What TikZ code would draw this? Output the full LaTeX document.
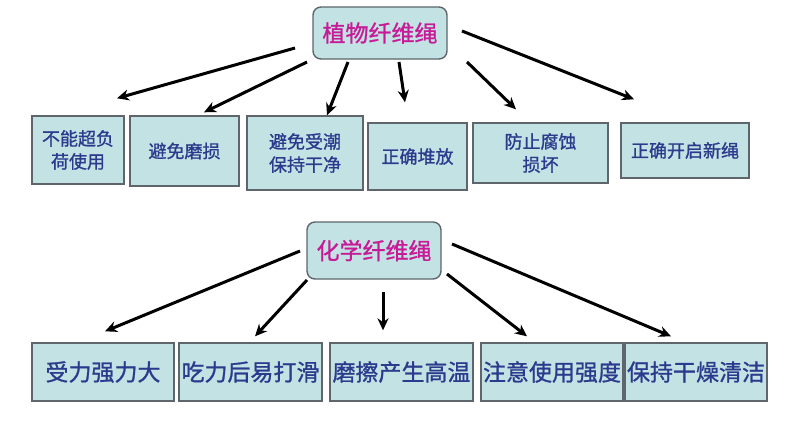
\documentclass[tikz,border=0pt]{standalone}
\usepackage{fontspec}
\newfontfamily\cjk[FakeBold=1]{Noto Sans CJK SC}
\usetikzlibrary{arrows.meta,calc}
\definecolor{boxfill}{HTML}{C2E2E3}
\definecolor{boxline}{HTML}{5E666C}
\definecolor{txtblue}{HTML}{2B3A8C}
\definecolor{txtmag}{HTML}{C81A96}
\begin{document}
\begin{tikzpicture}[x=1pt,y=-1pt,
  rootbox/.style={draw=boxline,line width=1.4pt,fill=boxfill,rounded corners=8pt,
    inner sep=0pt,font=\cjk\fontsize{23}{26}\selectfont,text=txtmag},
  topbox/.style={draw=boxline,line width=1.4pt,fill=boxfill,inner sep=0pt,
    font=\cjk\fontsize{18}{23}\selectfont,text=txtblue,align=center},
  botbox/.style={draw=boxline,line width=1.4pt,fill=boxfill,inner sep=0pt,
    font=\cjk\fontsize{23}{26}\selectfont,text=txtblue,align=center,
    minimum height=58pt},
  arr/.style={line width=3pt,-{Stealth[length=12pt,width=11pt]}}]
\useasboundingbox[fill=white] (0,0) rectangle (794,420);
% top tree
\node[rootbox,minimum width=134pt,minimum height=52pt] (r1) at (380,33) {植物纤维绳};
\node[topbox,minimum width=92pt,minimum height=68pt] (b1) at (78,150) {不能超负\\荷使用};
\node[topbox,minimum width=109pt,minimum height=70pt] (b2) at (184.5,151) {避免磨损};
\node[topbox,minimum width=116pt,minimum height=74pt] (b3) at (305,153) {避免受潮\\保持干净};
\node[topbox,minimum width=99pt,minimum height=67pt] (b4) at (417.5,156.5) {正确堆放};
\node[topbox,minimum width=135pt,minimum height=60pt] (b5) at (540.5,153) {防止腐蚀\\损坏};
\node[topbox,minimum width=128pt,minimum height=55pt] (b6) at (685,150.5) {正确开启新绳};
\draw[arr] ($(r1)+(-85,15)$) -- ($(b1.north)+(39,-17)$);
\draw[arr] ($(r1)+(-73,29)$) -- ($(b2.north)+(19.5,-3)$);
\draw[arr] ($(r1)+(-32,29)$) -- ($(b3.north)+(22,0)$);
\draw[arr] ($(r1)+(19,29)$) -- ($(b4.north)+(-12.5,-20)$);
\draw[arr] ($(r1)+(87,29)$) -- ($(b5.north)+(-24.5,-13)$);
\draw[arr] ($(r1)+(82,-2)$) -- ($(b6.north)+(-51,-23)$);
% bottom tree
\node[rootbox,minimum width=134pt,minimum height=57pt] (r2) at (374,250.5) {化学纤维绳};
\node[botbox,minimum width=142pt] (c1) at (103,372) {受力强力大};
\node[botbox,minimum width=143pt] (c2) at (250.5,372) {吃力后易打滑};
\node[botbox,minimum width=143pt] (c3) at (401.5,372) {磨擦产生高温};
\node[botbox,minimum width=142pt] (c4) at (552,372) {注意使用强度};
\node[botbox,minimum width=142pt] (c5) at (696,372) {保持干燥清洁};
\draw[arr] ($(r2)+(-74,0.5)$) -- ($(c1.north)+(2,-11)$);
\draw[arr] ($(r2)+(-67,29.5)$) -- ($(c2.north)+(4.5,-6)$);
\draw[arr] ($(r2)+(9,41.5)$) -- ($(c3.north)+(-18.5,-12)$);
\draw[arr] ($(r2)+(73,23.5)$) -- ($(c4.north)+(-25,-6)$);
\draw[arr] ($(r2)+(78,-6.5)$) -- ($(c5.north)+(-25,-6)$);
\end{tikzpicture}
\end{document}
